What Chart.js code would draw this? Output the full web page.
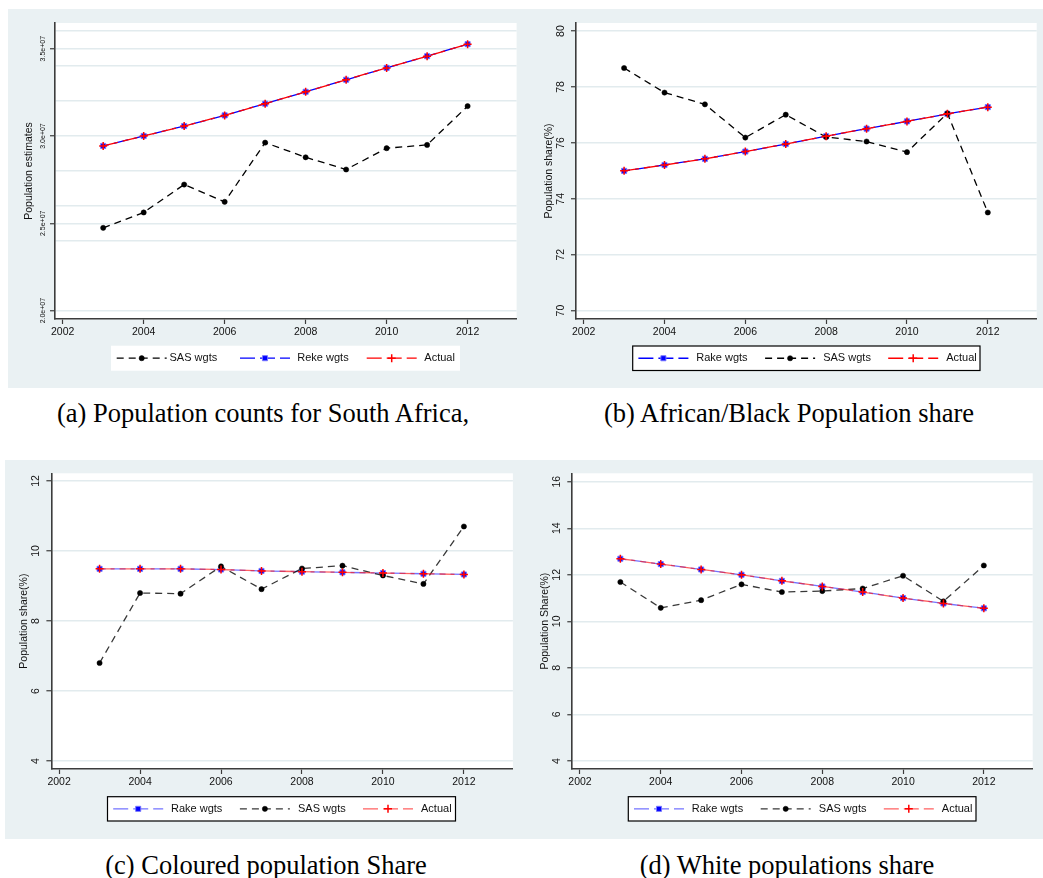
<!DOCTYPE html>
<html>
<head>
<meta charset="utf-8">
<script src="https://cdn.jsdelivr.net/npm/chart.js@4.4.1/dist/chart.umd.min.js"></script>
<style>
  html, body { margin: 0; padding: 0; background: #ffffff; }
  body { width: 1043px; height: 878px; position: relative; overflow: hidden; }
  .panel { position: absolute; background: #eaf1f3; }
  .panel canvas { position: absolute; left: 0; top: 0; }
  .cap {
    position: absolute; white-space: nowrap; color: #000;
    font-family: "Liberation Serif", "Times New Roman", serif; font-size: 26.5px;
    line-height: 1; transform: translateX(-50%);
  }
</style>
</head>
<body>
<div class="panel" id="panelA"><canvas id="chartA"></canvas></div>
<div class="panel" id="panelB"><canvas id="chartB"></canvas></div>
<div class="panel" id="panelC"><canvas id="chartC"></canvas></div>
<div class="panel" id="panelD"><canvas id="chartD"></canvas></div>
<div class="cap" style="left:263px;top:400px;">(a) Population counts for South Africa,</div>
<div class="cap" style="left:789px;top:400px;">(b) African/Black Population share</div>
<div class="cap" style="left:266px;top:852px;">(c) Coloured population Share</div>
<div class="cap" style="left:787px;top:852px;">(d) White populations share</div>

<script>
// Survey years
const years = [2003, 2004, 2005, 2006, 2007, 2008, 2009, 2010, 2011, 2012];
const xTicks = [2002, 2004, 2006, 2008, 2010, 2012];

// (a) Population counts
const countSAS    = [24.74e6, 25.62e6, 27.22e6, 26.23e6, 29.62e6, 28.78e6, 28.08e6, 29.30e6, 29.49e6, 31.71e6];
const countRake   = [29.43e6, 30.00e6, 30.57e6, 31.18e6, 31.85e6, 32.53e6, 33.22e6, 33.90e6, 34.57e6, 35.26e6];
const countActual = [29.43e6, 30.00e6, 30.57e6, 31.18e6, 31.85e6, 32.53e6, 33.22e6, 33.90e6, 34.57e6, 35.26e6];
const countTicks  = [20e6, 25e6, 30e6, 35e6];
const countGrid   = [20e6, 24e6, 25e6, 26e6, 28e6, 30e6, 32e6, 34e6, 35e6, 36e6];

// (b) African/Black share (%)
const blackRake   = [75.00, 75.21, 75.43, 75.69, 75.96, 76.24, 76.51, 76.77, 77.04, 77.28];
const blackSAS    = [78.68, 77.80, 77.38, 76.19, 77.01, 76.21, 76.05, 75.67, 77.06, 73.51];
const blackActual = [75.00, 75.21, 75.43, 75.69, 75.96, 76.24, 76.51, 76.77, 77.04, 77.28];
const blackTicks  = [70, 72, 74, 76, 78, 80];

// (c) Coloured share (%)
const colouredRake   = [9.49, 9.49, 9.49, 9.47, 9.43, 9.41, 9.39, 9.37, 9.35, 9.33];
const colouredSAS    = [6.80, 8.80, 8.78, 9.56, 8.91, 9.50, 9.58, 9.30, 9.06, 10.70];
const colouredActual = [9.49, 9.49, 9.49, 9.47, 9.43, 9.41, 9.39, 9.37, 9.35, 9.33];
const colouredTicks  = [4, 6, 8, 10, 12];

// (d) White share (%)
const whiteRake   = [12.69, 12.46, 12.23, 12.00, 11.74, 11.50, 11.26, 11.00, 10.77, 10.56];
const whiteSAS    = [11.69, 10.58, 10.91, 11.59, 11.26, 11.30, 11.41, 11.96, 10.86, 12.40];
const whiteActual = [12.69, 12.46, 12.23, 12.00, 11.74, 11.50, 11.26, 11.00, 10.77, 10.56];
const whiteTicks  = [4, 6, 8, 10, 12, 14, 16];

const SANS = '"Liberation Sans", Arial, Helvetica, sans-serif';
Chart.defaults.font.family = SANS;

const pairs = vals => years.map((y, i) => ({ x: y, y: vals[i] }));

// Series styles
function sasSeries(label, vals, soft) {
  return {
    label, data: pairs(vals), order: 1,
    borderColor: soft ? 'rgba(0,0,0,0.78)' : '#000000', borderWidth: 1.3, borderDash: [7, 5],
    pointStyle: 'circle', pointRadius: 2.6, pointBackgroundColor: '#000', pointBorderColor: '#000', pointBorderWidth: 0.5
  };
}
function rakeSeries(label, vals, soft) {
  return {
    label, data: pairs(vals), order: 2,
    borderColor: soft ? 'rgba(40,40,255,0.65)' : '#0000ff', borderWidth: 1.3, borderDash: [15, 5], borderDashOffset: 9,
    pointStyle: 'rect', pointRadius: 3.6, pointBackgroundColor: '#0000ff', pointBorderColor: 'rgba(120,120,255,0.9)', pointBorderWidth: 1
  };
}
function actualSeries(label, vals, soft) {
  return {
    label, data: pairs(vals), order: 0,
    borderColor: soft ? 'rgba(255,30,30,0.7)' : '#ff0000', borderWidth: 1.3, borderDash: [15, 5],
    pointStyle: 'cross', pointRadius: 4, pointBackgroundColor: '#ff0000', pointBorderColor: '#ff0000', pointBorderWidth: 1.5
  };
}

// White plot region, rotated y labels, axis title and keyed legend
const panelDecor = {
  id: 'panelDecor',
  beforeDatasetsDraw(chart) {},
  beforeDraw(chart, args, o) {
    const { ctx, chartArea: a } = chart;
    ctx.save();
    ctx.fillStyle = '#ffffff';
    ctx.fillRect(a.left, a.top, a.right - a.left, a.bottom - a.top);
    ctx.restore();
  },
  afterDraw(chart, args, o) {
    const { ctx, chartArea: a } = chart;
    const ys = chart.scales.y;
    ctx.save();
    ctx.fillStyle = '#111';
    ctx.textAlign = 'center';
    ctx.textBaseline = 'middle';
    // y tick labels, rotated
    ctx.font = o.tickSize + 'px ' + SANS;
    o.yTicks.forEach(v => {
      const py = ys.getPixelForValue(v);
      ctx.save();
      ctx.translate(a.left - o.tickOffset, py);
      ctx.rotate(-Math.PI / 2);
      ctx.fillText(o.fmt(v), 0, 0);
      ctx.restore();
    });
    // y axis title
    ctx.font = '10.5px ' + SANS;
    ctx.save();
    ctx.translate(a.left - o.titleOffset, (a.top + a.bottom) / 2);
    ctx.rotate(-Math.PI / 2);
    ctx.fillText(o.title, 0, 0);
    ctx.restore();

    // legend
    const L = o.legend;
    ctx.fillStyle = '#ffffff';
    ctx.fillRect(L.x, L.y, L.w, L.h);
    if (L.border) {
      ctx.strokeStyle = '#000';
      ctx.lineWidth = 1.2;
      ctx.strokeRect(L.x, L.y, L.w, L.h);
    }
    const cy = L.y + L.h / 2;
    chart.data.datasets.forEach((ds, i) => {
      const sx = L.x + L.sample[i];
      ctx.save();
      ctx.strokeStyle = ds.borderColor;
      ctx.lineWidth = ds.borderWidth;
      ctx.setLineDash(ds.borderDash || []);
      ctx.beginPath();
      ctx.moveTo(sx, cy);
      ctx.lineTo(sx + 50, cy);
      ctx.stroke();
      ctx.setLineDash([]);
      ctx.fillStyle = ds.pointBackgroundColor;
      ctx.strokeStyle = ds.pointBorderColor;
      ctx.lineWidth = ds.pointBorderWidth;
      Chart.helpers.drawPoint(ctx, { pointStyle: ds.pointStyle, rotation: 0, radius: ds.pointRadius, borderWidth: ds.pointBorderWidth }, sx + 25, cy);
      ctx.restore();
      ctx.fillStyle = '#111';
      ctx.textAlign = 'left';
      ctx.font = '11px ' + SANS;
      ctx.fillText(ds.label, L.x + L.text[i], cy);
    });
    ctx.restore();
  }
};

function makeChart(cfg) {
  const p = cfg.panel, pl = cfg.plot;
  const div = document.getElementById(cfg.div);
  div.style.left = p.x + 'px'; div.style.top = p.y + 'px';
  div.style.width = p.w + 'px'; div.style.height = p.h + 'px';
  const cv = document.getElementById(cfg.canvas);
  cv.width = p.w; cv.height = p.h;
  cv.style.width = p.w + 'px'; cv.style.height = p.h + 'px';
  const lg = Object.assign({}, cfg.legend, { x: cfg.legend.x - p.x, y: cfg.legend.y - p.y });
  const labelled = new Set(cfg.yTicks);

  return new Chart(cv, {
    type: 'line',
    data: { datasets: cfg.series },
    options: {
      responsive: false, animation: false, devicePixelRatio: 1,
      layout: { padding: { left: 0, top: pl.t - p.y, right: p.x + p.w - pl.r, bottom: 0 } },
      elements: { line: { tension: 0, fill: false } },
      plugins: {
        legend: { display: false }, tooltip: { enabled: false },
        panelDecor: {
          yTicks: cfg.yTicks, fmt: cfg.fmt, tickSize: cfg.tickSize, tickOffset: cfg.tickOffset,
          title: cfg.title, titleOffset: cfg.titleOffset, legend: lg
        }
      },
      scales: {
        x: {
          type: 'linear', position: 'bottom', min: 2001.81, max: 2013.21,
          afterBuildTicks: s => { s.ticks = xTicks.map(v => ({ value: v })); },
          afterFit: s => { s.height = p.y + p.h - pl.b; },
          grid: { drawOnChartArea: false, drawTicks: true, tickLength: 5, tickColor: '#3c3c3c', tickWidth: 1.2 },
          border: { display: true, color: '#3c3c3c', width: 1.6 },
          ticks: { color: '#111', font: { size: 10.5 }, padding: 2, autoSkip: false, maxRotation: 0, callback: v => String(v) }
        },
        y: {
          type: 'linear', min: cfg.yMin, max: cfg.yMax,
          afterBuildTicks: s => { s.ticks = cfg.yGrid.map(v => ({ value: v })); },
          afterFit: s => { s.width = pl.l - p.x; },
          grid: {
            color: '#e2ebee', lineWidth: 1.5, drawTicks: true, tickLength: 5, tickWidth: 1.2,
            tickColor: c => (c.tick && labelled.has(c.tick.value)) ? '#3c3c3c' : 'rgba(0,0,0,0)'
          },
          border: { display: true, color: '#3c3c3c', width: 1.6 },
          ticks: { display: false }
        }
      }
    },
    plugins: [panelDecor]
  });
}

const sampleStd = [5.7, 132.4, 255.5];
const textStd = [63.5, 190.5, 313.5];

makeChart({
  div: 'panelA', canvas: 'chartA',
  panel: { x: 8, y: 9, w: 516, h: 379 },
  plot: { l: 55, t: 23, r: 516.6, b: 319 },
  yMin: 19.52e6, yMax: 36.47e6, yTicks: countTicks, yGrid: countGrid,
  fmt: v => (v / 1e7).toFixed(1) + 'e+07', tickSize: 7, tickOffset: 12.3,
  title: 'Population estimates', titleOffset: 25.7,
  legend: { x: 111, y: 345.7, w: 349, h: 25, border: false, sample: [5.7, 129, 255.7], text: [58.5, 186.3, 313.3] },
  series: [sasSeries('SAS wgts', countSAS, false), rakeSeries('Reke wgts', countRake, false), actualSeries('Actual', countActual, false)]
});

makeChart({
  div: 'panelB', canvas: 'chartB',
  panel: { x: 524, y: 9, w: 519, h: 379 },
  plot: { l: 576, t: 23, r: 1036.7, b: 319 },
  yMin: 69.70, yMax: 80.29, yTicks: blackTicks, yGrid: blackTicks,
  fmt: v => String(v), tickSize: 10.5, tickOffset: 14.5,
  title: 'Population share(%)', titleOffset: 26.7,
  legend: { x: 632.7, y: 346, w: 347.3, h: 24.5, border: true, sample: sampleStd, text: textStd },
  series: [rakeSeries('Rake wgts', blackRake, false), sasSeries('SAS wgts', blackSAS, false), actualSeries('Actual', blackActual, false)]
});

makeChart({
  div: 'panelC', canvas: 'chartC',
  panel: { x: 5, y: 460, w: 519, h: 379 },
  plot: { l: 51.4, t: 473.3, r: 512.9, b: 769 },
  yMin: 3.771, yMax: 12.22, yTicks: colouredTicks, yGrid: colouredTicks,
  fmt: v => String(v), tickSize: 10.5, tickOffset: 15.5,
  title: 'Population share(%)', titleOffset: 27,
  legend: { x: 107.5, y: 796.7, w: 348, h: 24.3, border: true, sample: sampleStd, text: textStd },
  series: [rakeSeries('Rake wgts', colouredRake, true), sasSeries('SAS wgts', colouredSAS, true), actualSeries('Actual', colouredActual, true)]
});

makeChart({
  div: 'panelD', canvas: 'chartD',
  panel: { x: 524, y: 460, w: 519, h: 379 },
  plot: { l: 572.3, t: 473.3, r: 1032.7, b: 769 },
  yMin: 3.656, yMax: 16.361, yTicks: whiteTicks, yGrid: whiteTicks,
  fmt: v => String(v), tickSize: 10.5, tickOffset: 15.5,
  title: 'Population Share(%)', titleOffset: 27,
  legend: { x: 628.3, y: 796.7, w: 347.7, h: 24.3, border: true, sample: sampleStd, text: textStd },
  series: [rakeSeries('Rake wgts', whiteRake, true), sasSeries('SAS wgts', whiteSAS, true), actualSeries('Actual', whiteActual, true)]
});
</script>
</body>
</html>
